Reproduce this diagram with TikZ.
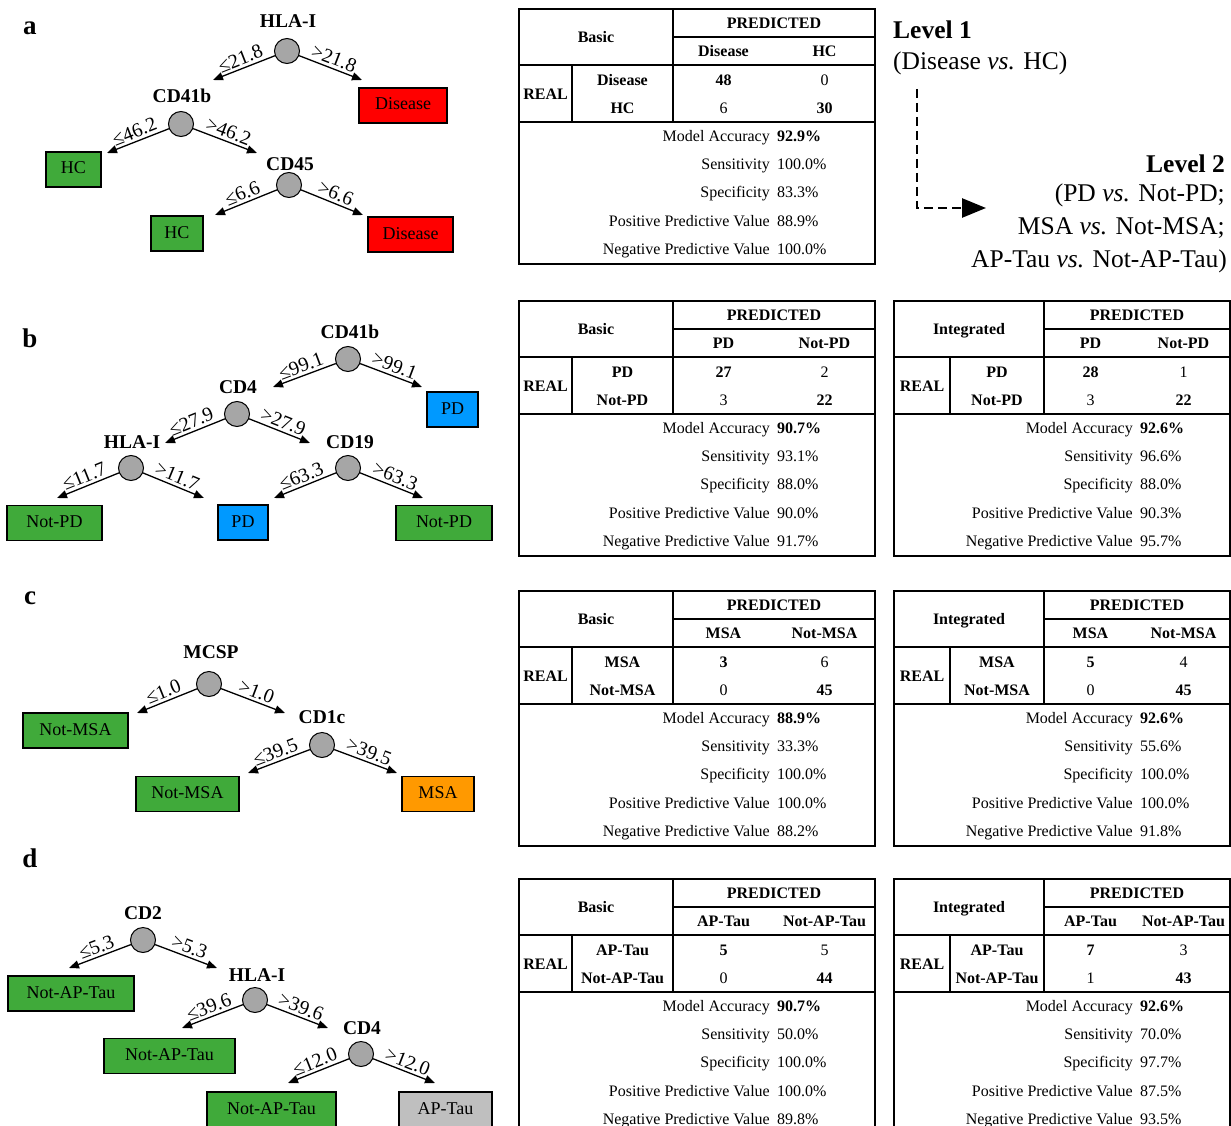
\documentclass[tikz,border=0pt]{standalone}
\usepackage{fontspec}
\setmainfont{Liberation Serif}
\usetikzlibrary{arrows.meta}

\definecolor{hcgreen}{RGB}{64,170,58}
\definecolor{disred}{RGB}{255,0,0}
\definecolor{pdblue}{RGB}{0,153,255}
\definecolor{msaorange}{RGB}{255,153,0}
\definecolor{taugrey}{RGB}{191,191,191}
\definecolor{splitgrey}{RGB}{166,166,166}

\tikzset{
  panel/.style={font=\bfseries\fontsize{27}{30}\selectfont, inner sep=0pt},
  feat/.style={font=\bfseries\fontsize{19.5}{22}\selectfont, inner sep=0pt},
  split/.style={circle, draw, fill=splitgrey, line width=1pt, minimum size=25pt, inner sep=0pt},
  leaf/.style={draw, line width=1.4pt, minimum height=35pt, inner sep=0pt,
    font=\fontsize{18}{20}\selectfont, text height=12pt, text depth=3pt},
  branch/.style={line width=1.3pt, -{Triangle[length=10pt,width=8pt]}},
  cut/.style={midway, above, sloped, inner sep=2.5pt, font=\fontsize{20}{22}\selectfont},
  tabline/.style={line width=1.2pt},
  tabtx/.style={inner sep=0pt, font=\fontsize{16}{18}\selectfont, text height=10pt, text depth=4pt, yshift=-2.5pt},
  tabhd/.style={tabtx, font=\bfseries\fontsize{16}{18}\selectfont},
  level/.style={inner sep=0pt, font=\fontsize{25.5}{28}\selectfont},
}

% frame of one confusion table: name, left, real sep, predicted sep, right, top
\newcommand{\settab}[6]{%
  \def\tN{#1}\def\tL{#2}\def\tA{#3}\def\tB{#4}\def\tR{#5}\def\tT{#6}%
  \pgfmathsetmacro{\tM}{(#4+#5)/2}%
  \pgfmathsetmacro{\tCa}{#4+0.25*(#5-#4)}%
  \pgfmathsetmacro{\tCb}{#4+0.75*(#5-#4)}%
  \draw[tabline] (#2,#6) rectangle (#5,#6+255);
  \draw[tabline] (#4,#6) -- (#4,#6+113);
  \draw[tabline] (#4,#6+28) -- (#5,#6+28);
  \draw[tabline] (#2,#6+56) -- (#5,#6+56);
  \draw[tabline] (#3,#6+56) -- (#3,#6+113);
  \draw[tabline] (#2,#6+113) -- (#5,#6+113);
}
\newcommand{\tabhead}[3]{%
  \node[tabhd] (\tN-pred) at (\tM,\tT+14) {PREDICTED};
  \node[tabhd] (\tN-name) at ({(\tL+\tB)/2},\tT+28) {#1};
  \node[tabhd] (\tN-p1) at (\tCa,\tT+42) {#2};
  \node[tabhd] (\tN-p2) at (\tCb,\tT+42) {#3};
  \node[tabhd] (\tN-real) at ({(\tL+\tA)/2},\tT+85) {REAL};
  \node[tabhd] (\tN-r1) at ({(\tA+\tB)/2},\tT+71) {#2};
  \node[tabhd] (\tN-r2) at ({(\tA+\tB)/2},\tT+99) {#3};
}
\newcommand{\tabcells}[4]{%
  \node[tabhd] (\tN-v11) at (\tCa,\tT+71) {#1};
  \node[tabtx] (\tN-v12) at (\tCb,\tT+71) {#2};
  \node[tabtx] (\tN-v21) at (\tCa,\tT+99) {#3};
  \node[tabhd] (\tN-v22) at (\tCb,\tT+99) {#4};
}
\newcommand{\tabstats}[5]{%
  \node[tabtx, anchor=east] (\tN-l1) at (\tM-4,\tT+127) {Model Accuracy};
  \node[tabhd, anchor=west] (\tN-s1) at (\tM+3,\tT+127) {#1};
  \node[tabtx, anchor=east] (\tN-l2) at (\tM-4,\tT+155) {Sensitivity};
  \node[tabtx, anchor=west] (\tN-s2) at (\tM+3,\tT+155) {#2};
  \node[tabtx, anchor=east] (\tN-l3) at (\tM-4,\tT+183) {Specificity};
  \node[tabtx, anchor=west] (\tN-s3) at (\tM+3,\tT+183) {#3};
  \node[tabtx, anchor=east] (\tN-l4) at (\tM-4,\tT+212) {Positive Predictive Value};
  \node[tabtx, anchor=west] (\tN-s4) at (\tM+3,\tT+212) {#4};
  \node[tabtx, anchor=east] (\tN-l5) at (\tM-4,\tT+240) {Negative Predictive Value};
  \node[tabtx, anchor=west] (\tN-s5) at (\tM+3,\tT+240) {#5};
}

\begin{document}
\begin{tikzpicture}[x=1pt, y=-1pt]
  %%%%% START %%%%%
  \useasboundingbox (0,0) rectangle (1231,1126);
  \fill[white] (0,0) rectangle (1231,1126);

  % panel a
  \node[panel] (pa) at (30,28) {a};
  \node[split] (hlaA) at (287,51) {};
  \node[feat] (hlaAt) at (288,21) {HLA-I};
  \coordinate (hlaAl) at (213,80);
  \coordinate (hlaAr) at (362,80);
  \draw[branch] (hlaA) -- node[cut] {≤21.8} (hlaAl);
  \draw[branch] (hlaA) -- node[cut] {>21.8} (hlaAr);
  \node[leaf, fill=disred, minimum width=88pt] (disA1) at (403,105.5) {Disease};

  \node[split] (cd41A) at (181,124) {};
  \node[feat] (cd41At) at (182,96) {CD41b};
  \coordinate (cd41Al) at (107,153);
  \coordinate (cd41Ar) at (257,153);
  \draw[branch] (cd41A) -- node[cut] {≤46.2} (cd41Al);
  \draw[branch] (cd41A) -- node[cut] {>46.2} (cd41Ar);
  \node[leaf, fill=hcgreen, minimum width=55pt] (hcA1) at (73.5,169.5) {HC};

  \node[split] (cd45A) at (289,185) {};
  \node[feat] (cd45At) at (290,164) {CD45};
  \coordinate (cd45Al) at (215,215);
  \coordinate (cd45Ar) at (363,215);
  \draw[branch] (cd45A) -- node[cut] {≤6.6} (cd45Al);
  \draw[branch] (cd45A) -- node[cut] {>6.6} (cd45Ar);
  \node[leaf, fill=hcgreen, minimum width=52pt] (hcA2) at (177,233.5) {HC};
  \node[leaf, fill=disred, minimum width=85pt] (disA2) at (410.5,234.5) {Disease};

  \settab{cmA}{519}{572}{673}{875}{9}
  \tabhead{Basic}{Disease}{HC}
  \tabcells{48}{0}{6}{30}
  \tabstats{92.9\%}{100.0\%}{83.3\%}{88.9\%}{100.0\%}

  % levels
  \node[level, font=\bfseries\fontsize{25.5}{28}\selectfont, anchor=west] (lev1) at (893,30) {Level 1};
  \node[level, anchor=west] (lev1t) at (893,63) {(Disease \textit{vs.} HC)};
  \node[level, font=\bfseries\fontsize{25.5}{28}\selectfont, anchor=east] (lev2) at (1225,164) {Level 2};
  \node[level, anchor=east] (lev2a) at (1225,195) {(PD \textit{vs.} Not-PD;};
  \node[level, anchor=east] (lev2b) at (1225,228) {MSA \textit{vs.} Not-MSA;};
  \node[level, anchor=east] (lev2c) at (1227,261) {AP-Tau \textit{vs.} Not-AP-Tau)};
  \coordinate (levs) at (917,89);
  \coordinate (leve) at (986,208);
  \draw[line width=2.6pt, dash pattern=on 9pt off 5pt, -{Triangle[length=24pt,width=19pt]}] (levs) |- (leve);

  % panel b
  \node[panel] (pb) at (30,338) {b};
  \node[split] (cd41B) at (348,359) {};
  \node[feat] (cd41Bt) at (350,332) {CD41b};
  \coordinate (cd41Bl) at (273,387);
  \coordinate (cd41Br) at (422,387);
  \draw[branch] (cd41B) -- node[cut] {≤99.1} (cd41Bl);
  \draw[branch] (cd41B) -- node[cut] {>99.1} (cd41Br);
  \node[leaf, fill=pdblue, minimum width=51pt] (pdB1) at (452.5,409.5) {PD};

  \node[split] (cd4B) at (237,414) {};
  \node[feat] (cd4Bt) at (238,387) {CD4};
  \coordinate (cd4Bl) at (165,443);
  \coordinate (cd4Br) at (310,443);
  \draw[branch] (cd4B) -- node[cut] {≤27.9} (cd4Bl);
  \draw[branch] (cd4B) -- node[cut] {>27.9} (cd4Br);

  \node[split] (hlaB) at (131,468) {};
  \node[feat] (hlaBt) at (132,442) {HLA-I};
  \coordinate (hlaBl) at (57,498);
  \coordinate (hlaBr) at (204,498);
  \draw[branch] (hlaB) -- node[cut] {≤11.7} (hlaBl);
  \draw[branch] (hlaB) -- node[cut] {>11.7} (hlaBr);
  \node[leaf, fill=hcgreen, minimum width=95pt] (npB1) at (54.5,523) {Not-PD};
  \node[leaf, fill=pdblue, minimum width=50pt] (pdB2) at (243,522.5) {PD};

  \node[split] (cd19B) at (348,468) {};
  \node[feat] (cd19Bt) at (350,442) {CD19};
  \coordinate (cd19Bl) at (274,498);
  \coordinate (cd19Br) at (423,498);
  \draw[branch] (cd19B) -- node[cut] {≤63.3} (cd19Bl);
  \draw[branch] (cd19B) -- node[cut] {>63.3} (cd19Br);
  \node[leaf, fill=hcgreen, minimum width=96pt] (npB2) at (444,523) {Not-PD};

  \settab{cmB}{519}{572}{673}{875}{301}
  \tabhead{Basic}{PD}{Not-PD}
  \tabcells{27}{2}{3}{22}
  \tabstats{90.7\%}{93.1\%}{88.0\%}{90.0\%}{91.7\%}
  \settab{cmBi}{894}{950}{1044}{1230}{301}
  \tabhead{Integrated}{PD}{Not-PD}
  \tabcells{28}{1}{3}{22}
  \tabstats{92.6\%}{96.6\%}{88.0\%}{90.3\%}{95.7\%}

  % panel c
  \node[panel] (pc) at (30,598) {c};
  \node[split] (mcspC) at (209,684) {};
  \node[feat] (mcspCt) at (211,652) {MCSP};
  \coordinate (mcspCl) at (137,713);
  \coordinate (mcspCr) at (285,713);
  \draw[branch] (mcspC) -- node[cut] {≤1.0} (mcspCl);
  \draw[branch] (mcspC) -- node[cut] {>1.0} (mcspCr);
  \node[leaf, fill=hcgreen, minimum width=105pt] (nmC1) at (75.5,730.5) {Not-MSA};

  \node[split] (cd1cC) at (322,745) {};
  \node[feat] (cd1cCt) at (322,717) {CD1c};
  \coordinate (cd1cCl) at (248,773);
  \coordinate (cd1cCr) at (397,773);
  \draw[branch] (cd1cC) -- node[cut] {≤39.5} (cd1cCl);
  \draw[branch] (cd1cC) -- node[cut] {>39.5} (cd1cCr);
  \node[leaf, fill=hcgreen, minimum width=103pt] (nmC2) at (187.5,794) {Not-MSA};
  \node[leaf, fill=msaorange, minimum width=72pt] (msaC) at (438,794) {MSA};

  \settab{cmC}{519}{572}{673}{875}{591}
  \tabhead{Basic}{MSA}{Not-MSA}
  \tabcells{3}{6}{0}{45}
  \tabstats{88.9\%}{33.3\%}{100.0\%}{100.0\%}{88.2\%}
  \settab{cmCi}{894}{950}{1044}{1230}{591}
  \tabhead{Integrated}{MSA}{Not-MSA}
  \tabcells{5}{4}{0}{45}
  \tabstats{92.6\%}{55.6\%}{100.0\%}{100.0\%}{91.8\%}

  % panel d
  \node[panel] (pd) at (30,858) {d};
  \node[split] (cd2D) at (143,940) {};
  \node[feat] (cd2Dt) at (143,913) {CD2};
  \coordinate (cd2Dl) at (69,968);
  \coordinate (cd2Dr) at (217,968);
  \draw[branch] (cd2D) -- node[cut] {≤5.3} (cd2Dl);
  \draw[branch] (cd2D) -- node[cut] {>5.3} (cd2Dr);
  \node[leaf, fill=hcgreen, minimum width=126pt] (naD1) at (71,993.5) {Not-AP-Tau};

  \node[split] (hlaD) at (255,1000) {};
  \node[feat] (hlaDt) at (257,975) {HLA-I};
  \coordinate (hlaDl) at (182,1028);
  \coordinate (hlaDr) at (328,1028);
  \draw[branch] (hlaD) -- node[cut] {≤39.6} (hlaDl);
  \draw[branch] (hlaD) -- node[cut] {>39.6} (hlaDr);
  \node[leaf, fill=hcgreen, minimum width=131pt] (naD2) at (169.5,1056) {Not-AP-Tau};

  \node[split] (cd4D) at (361,1054) {};
  \node[feat] (cd4Dt) at (362,1028) {CD4};
  \coordinate (cd4Dl) at (288,1083);
  \coordinate (cd4Dr) at (435,1083);
  \draw[branch] (cd4D) -- node[cut] {≤12.0} (cd4Dl);
  \draw[branch] (cd4D) -- node[cut] {>12.0} (cd4Dr);
  \node[leaf, fill=hcgreen, minimum width=129pt, minimum height=36pt] (naD3) at (271.5,1110) {Not-AP-Tau};
  \node[leaf, fill=taugrey, minimum width=93pt, minimum height=36pt] (apD) at (445.5,1110) {AP-Tau};

  \settab{cmD}{519}{572}{673}{875}{879}
  \tabhead{Basic}{AP-Tau}{Not-AP-Tau}
  \tabcells{5}{5}{0}{44}
  \tabstats{90.7\%}{50.0\%}{100.0\%}{100.0\%}{89.8\%}
  \settab{cmDi}{894}{950}{1044}{1230}{879}
  \tabhead{Integrated}{AP-Tau}{Not-AP-Tau}
  \tabcells{7}{3}{1}{43}
  \tabstats{92.6\%}{70.0\%}{97.7\%}{87.5\%}{93.5\%}
  %%%%% END %%%%%
\end{tikzpicture}
\end{document}
